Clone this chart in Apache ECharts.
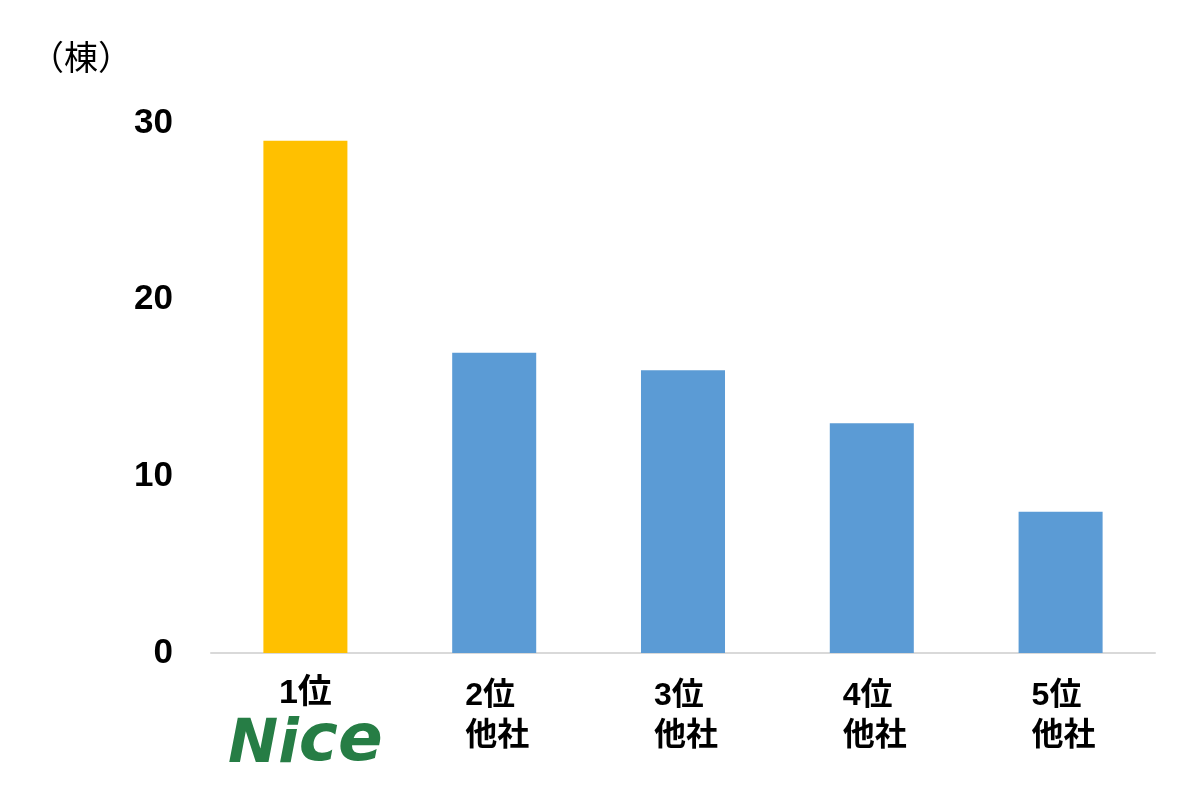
<!DOCTYPE html>
<html>
<head>
<meta charset="utf-8">
<script src="https://cdn.jsdelivr.net/npm/echarts@6/dist/echarts.min.js"></script>
<style>
html,body{margin:0;padding:0;background:#fff;}
#chart{width:1178px;height:796px;}
</style>
</head>
<body>
<div id="chart"></div>
<script>
const categories = ['1位', '2位\n他社', '3位\n他社', '4位\n他社', '5位\n他社'];
const values = [29, 17, 16, 13, 8];
const barColors = ['#FFC000', '#5B9BD5', '#5B9BD5', '#5B9BD5', '#5B9BD5'];
const yTicks = [0, 10, 20, 30];
const unitLabel = '（棟）';
const logoParts = ['N', 'i', 'ce'];

const chart = echarts.init(document.getElementById('chart'));
const cjk = "'Liberation Sans','Noto Sans CJK JP',sans-serif";
const logoFont = "'DejaVu Sans',sans-serif";

chart.setOption({
  backgroundColor: '#ffffff',
  animation: false,
  grid: { left: 211, right: 23, top: 123, bottom: 143 },
  graphic: [{
    type: 'text', left: 30, top: 40,
    style: { text: unitLabel, font: "normal 34px 'Noto Sans CJK JP'", fill: '#000' }
  }],
  xAxis: {
    type: 'category',
    data: categories,
    axisLine: { show: true, lineStyle: { color: '#D9D9D9', width: 2 } },
    axisTick: { show: false },
    axisLabel: {
      margin: 19,
      interval: 0,
      formatter: function (v, i) {
        if (i === 0) return '{first|' + v + '}\n{ln|' + logoParts[0] + '}{li|' + logoParts[1] + '}{lce|' + logoParts[2] + '}';
        const parts = v.split('\n');
        return '{t|' + parts[0] + '}\n{t|' + parts[1] + '}';
      },
      rich: {
        first: { fontFamily: cjk, fontWeight: 'bold', fontSize: 34, color: '#000', lineHeight: 44, align: 'center' },
        ln: { fontFamily: logoFont, fontStyle: 'italic', fontWeight: 'bold', fontSize: 60, color: '#267D45', lineHeight: 60, verticalAlign: 'bottom' },
        li: { fontFamily: logoFont, fontStyle: 'italic', fontWeight: 'bold', fontSize: 60, color: '#267D45', lineHeight: 60, verticalAlign: 'bottom' },
        lce: { fontFamily: logoFont, fontStyle: 'italic', fontWeight: 'bold', fontSize: 66, color: '#267D45', lineHeight: 60, verticalAlign: 'bottom' },
        t: { fontFamily: cjk, fontWeight: 'bold', fontSize: 32, color: '#000', lineHeight: 40, width: 66, align: 'left', padding: [9, 0, 0, 8] }
      }
    }
  },
  yAxis: {
    type: 'value',
    min: 0, max: 30, interval: 10,
    axisLine: { show: false },
    axisTick: { show: false },
    splitLine: { show: false },
    axisLabel: {
      margin: 38,
      fontFamily: cjk, fontWeight: 'bold', fontSize: 35, color: '#000',
      padding: [0, 0, 7, 0],
      formatter: function (v) { return yTicks.indexOf(v) >= 0 ? String(v) : ''; }
    }
  },
  series: [{
    type: 'bar',
    data: values.map((v, i) => ({ value: v, itemStyle: { color: barColors[i] } })),
    barWidth: '44.5%'
  }]
});
</script>
</body>
</html>
